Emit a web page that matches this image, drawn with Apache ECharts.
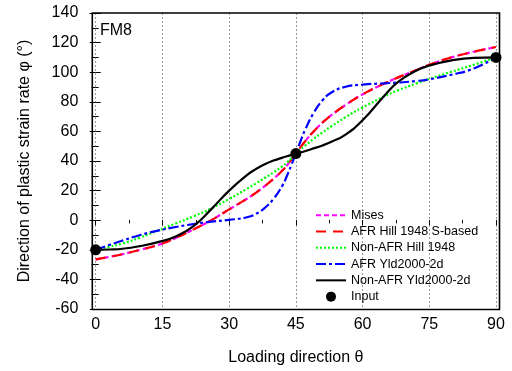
<!DOCTYPE html>
<html><head><meta charset="utf-8">
<script src="https://cdn.jsdelivr.net/npm/echarts@6/dist/echarts.min.js"></script>
<style>html,body{margin:0;padding:0;background:#fff}#c{width:512px;height:371px}</style>
</head><body><div id="c"></div><script>
// Loading direction theta (deg)
const theta = [0,3,6,10,14,18,22,26,30,34,36,38,40,42,43,44,45,46,47,49,51,53,56,60,65,68,72,75,80,85,90];
// Direction of plastic strain rate phi (deg)
const misesPhi      = [-26.5,-24.8,-23,-20,-16.8,-12,-6.2,0,7.3,14.5,18.5,23,28,33.7,37,41,45,49,53,60,66,71,77.5,85,92.5,96.5,101.3,105,110,113.8,117];
const afrHillPhi    = [-26.5,-24.8,-23,-20,-16.8,-12,-6.2,0,7.3,14.5,18.5,23,28,33.7,37,41,45,49,53,60,66,71,77.5,85,92.5,96.5,101.3,105,110,113.8,117];
const nonAfrHillPhi = [-20,-18,-15.8,-11.7,-7,-2.2,2.6,8,14.4,21.2,24.8,28.5,32.3,36.5,39,41.9,45,47.6,50.2,55,59.3,63.5,69.3,76.2,83.8,87.8,92.3,95.5,100.3,105,110];
const afrYldPhi     = [-20,-16.8,-13.8,-10,-7,-4.6,-2.6,-1,0.2,2,4.2,8.3,14.5,23.5,30,37.3,45,53,60.5,72.5,81,86.3,90,91.6,92.5,93,94,95.2,98.3,102.5,110];
const nonAfrYldPhi  = [-20,-19.8,-19.3,-17.5,-14.8,-11,-4,7.5,20,30.5,34.5,37.8,40.3,42.3,43.2,44.1,45,45.8,46.6,48.5,50.5,53,57.5,67.5,84.5,93.5,101,104.5,108,109.7,110];
const inputTheta = [0,45,90];
const inputPhi   = [-20,45,110];
const seriesNames = ['Mises','AFR Hill 1948 S-based','Non-AFR Hill 1948','AFR Yld2000-2d','Non-AFR Yld2000-2d','Input'];

const FONT = 'Liberation Sans, Arial, sans-serif';
const pairs = v => theta.map((t,i)=>[t,v[i]]);
const lineSeries = (name, vals, color, type) => ({
  name, type:'line', data: pairs(vals), smooth:0.5,
  showSymbol:false, symbol:'none', clip:true,
  lineStyle:{color, width:2.2, type}, itemStyle:{color}
});

const chart = echarts.init(document.getElementById('c'), null, {renderer:'canvas'});
chart.setOption({
  animation:false,
  backgroundColor:'#fff',
  title:{text:'FM8', left:100, top:23, padding:0, textStyle:{fontFamily:FONT, fontSize:16, fontWeight:'normal', color:'#000'}},
  grid:{left:95.7, right:16, top:13, bottom:61.5, containLabel:false},
  xAxis:[{
    type:'value', min:0, max:90, interval:15, position:'bottom',
    name:'Loading direction θ', nameLocation:'middle', nameGap:41,
    nameTextStyle:{fontFamily:FONT, fontSize:16, color:'#000'},
    axisLine:{show:false},
    axisTick:{show:true, inside:false, length:5, lineStyle:{color:'#000', width:1}},
    minorTick:{show:true, splitNumber:2, length:3, lineStyle:{color:'#000', width:1}},
    axisLabel:{fontFamily:FONT, fontSize:16, color:'#000', margin:8},
    splitLine:{show:true, lineStyle:{color:'#999', width:1, type:[2,2]}}
  },{
    type:'value', min:0, max:90, interval:15, position:'top',
    axisLine:{show:false},
    axisTick:{show:true, inside:true, length:4, lineStyle:{color:'#000'}},
    minorTick:{show:true, splitNumber:2, length:3, lineStyle:{color:'#000'}},
    axisLabel:{show:false}, splitLine:{show:false}
  }],
  yAxis:[{
    type:'value', min:-60, max:140, interval:20, position:'left', offset:3.4,
    name:'Direction of plastic strain rate φ (°)', nameLocation:'middle', nameGap:60, nameRotate:90,
    nameTextStyle:{fontFamily:FONT, fontSize:16, color:'#000'},
    axisLine:{show:false},
    axisTick:{show:true, inside:false, length:6, lineStyle:{color:'#000'}},
    minorTick:{show:true, splitNumber:2, length:4, lineStyle:{color:'#000'}},
    axisLabel:{fontFamily:FONT, fontSize:16, color:'#000', margin:14},
    splitLine:{show:false}
  },{
    type:'value', min:-60, max:140, interval:20, position:'right', offset:3.4,
    axisLine:{show:false},
    axisTick:{show:true, inside:false, length:5, lineStyle:{color:'#000'}},
    minorTick:{show:true, splitNumber:2, length:3, lineStyle:{color:'#000'}},
    axisLabel:{show:false}, splitLine:{show:false}
  }],
  legend:{
    show:true, orient:'vertical', left:315, top:207, padding:0,
    itemWidth:30, itemHeight:10, itemGap:0,
    data:seriesNames.map((n,i)=> i<5 ? {name:n, itemStyle:{opacity:0}} : {name:n}),
    textStyle:{fontFamily:FONT, fontSize:12.5, color:'#000', lineHeight:16.3}
  },
  graphic:[{
    type:'rect', z:100, silent:true,
    shape:{x:92.3, y:13, width:407.2, height:296.5},
    style:{fill:'none', stroke:'#000', lineWidth:1.6}
  }],
  series:[
    lineSeries(seriesNames[0], misesPhi, '#ff00ff', [5,3]),
    lineSeries(seriesNames[1], afrHillPhi, '#ff0000', [10,7]),
    lineSeries(seriesNames[2], nonAfrHillPhi, '#00ff00', [2,2]),
    lineSeries(seriesNames[3], afrYldPhi, '#0000ff', [10,3,3,3]),
    lineSeries(seriesNames[4], nonAfrYldPhi, '#000000', 'solid'),
    {name:seriesNames[5], type:'scatter', symbol:'circle', symbolSize:11,
     data: inputTheta.map((t,i)=>[t,inputPhi[i]]), itemStyle:{color:'#000', opacity:1}, z:10}
  ]
});
</script></body></html>
